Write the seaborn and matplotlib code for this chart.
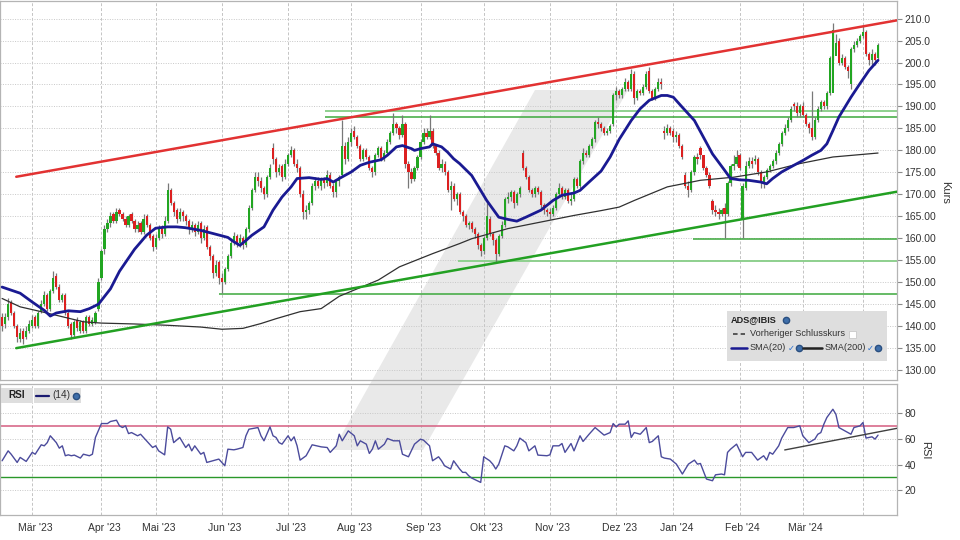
import pandas as pd
import matplotlib
matplotlib.use("Agg")
import matplotlib.pyplot as plt
from matplotlib.patches import Polygon, Rectangle
from matplotlib.lines import Line2D
from matplotlib.transforms import ScaledTranslation
from matplotlib import font_manager
import seaborn as sns

# ---- Tageskerzen ADS@IBIS, 15.02.2023 - 09.04.2024 ----
opens = [
    142, 140.5, 142, 145.5, 143, 140, 137, 139, 137.5, 139,
    140, 142, 140, 143.5, 145, 147, 144, 148, 151.5, 149, 146, 147, 143, 140.5, 138, 141.5, 139, 141, 139, 142, 140.5, 141, 144,
    151, 157.5, 162, 163.5, 165.5, 164, 166.5, 165.5, 164.5, 163, 165.5, 164, 162, 163.5, 161.5, 165, 163, 160.5,
    158, 160, 162.5, 161, 164, 171, 168, 166.5, 164.5, 166, 165, 164, 162, 163, 161.5, 163.5, 160, 162.5, 158, 156, 152, 154.5,
    151, 150, 153, 156, 159, 160.5, 159, 160, 158.5, 162, 167, 171, 174, 173, 171.5, 170, 174, 180.5, 178, 175, 176.5, 174,
    177, 179, 180, 177, 176, 170, 166, 166.5, 168, 172, 173, 172, 173.5, 172.5, 174.5, 172, 170.5, 173, 174.5, 181, 178,
    182, 184.5, 183, 181, 178, 180, 178.5, 176, 175, 179, 180.5, 178, 179.5, 182, 184, 186, 185, 183.5, 186, 177, 175, 173.5, 176,
    178.5, 182, 184, 183, 184.5, 181, 179.5, 176, 177, 175, 171, 172, 169, 170, 166, 165, 163, 163.5, 162, 161, 158.5,
    157, 160, 164.5, 161, 159.5, 156.5, 160.5, 163, 169, 169.5, 170.5, 168, 170, 179.5, 176, 174, 171, 170, 171.5, 170.5, 167.5, 166.5,
    166, 165.5, 167, 170, 171.5, 169.5, 171, 168.5, 169, 173.5, 172, 177.5, 179.5, 179, 181, 182.5, 186.5, 186, 185, 184, 184.5, 186,
    192.5, 193.5, 192.5, 194, 195.5, 194, 197.5, 192, 193.5, 193, 194.5, 198, 193.5, 192, 194, 195.5, 184.5, 184, 185,
    184.5, 183, 183.5, 181, 174.5, 172, 171, 175, 178.5, 180.5, 179, 176, 174.5, 168.5, 166.5, 166, 165.5, 167, 165.5, 172.5, 176.5, 177,
    179, 164.5, 171.5, 176.5, 177.5, 177.5, 178, 175, 172.5, 174, 175.5, 176.5, 177.5, 179.5, 181.5, 184, 185, 187, 190.5, 190, 188.5,
    190, 188, 186, 185, 183, 187, 189.5, 191, 190, 193, 193, 201.5, 205, 200, 201, 199, 195, 203, 204, 205,
    206, 207, 202, 200.5, 202, 201,
]
highs = [
    143, 143, 146.5, 146, 143.5, 140.5, 139.5, 139.5, 140, 141.5,
    142.5, 142.5, 143.5, 146, 148, 147.5, 148.5, 152.5, 152, 149.5, 147.5, 147.5, 143.5, 141, 141.5, 142, 141.5, 141.5, 142.5, 142.5, 142, 143.5, 151,
    157.5, 163, 164.5, 166, 166, 167, 167, 166, 165, 165.5, 166, 164.5, 164, 164, 165.5, 165.5, 163.5, 161,
    161, 163, 163, 165, 172.5, 171.5, 168.5, 167, 167, 166.5, 165.5, 164.5, 164, 163.5, 164, 164, 163, 163, 158.5, 156.5, 155, 155,
    152, 153.5, 156.5, 159.5, 161.5, 161, 161, 160.5, 162.5, 167.5, 171.5, 175, 175, 174, 172, 174.5, 177, 181.6, 178.5, 177, 177, 178,
    179.5, 181, 180.5, 178, 176.5, 171, 167.5, 168.5, 172.5, 174, 174, 174, 174, 175.5, 175, 172.5, 173.5, 174.5, 187, 182, 183,
    185, 185.5, 183.5, 181.5, 180.5, 180.5, 179, 176.5, 179.5, 181, 181, 180, 182.5, 184.5, 188.4, 186.5, 185.5, 188, 186.5, 177.5, 176, 176.5, 179,
    182.5, 185, 185, 188, 185, 181.5, 180, 178, 177.5, 175.5, 173, 172.5, 170.5, 170.5, 166.5, 165.5, 164, 164, 162.5, 161.5, 159,
    160.5, 168, 165, 161.5, 160, 161, 164, 169.5, 170.5, 171, 171, 170.5, 172, 180, 176.5, 174.5, 171.5, 172, 172, 171, 168, 167,
    167, 167.5, 170.5, 172.5, 172, 171.5, 171.5, 170, 174, 174, 178, 180.5, 180, 181.5, 183, 187, 187.5, 186.5, 185.5, 185, 186, 193,
    194.5, 194, 194.5, 196.5, 196, 198.5, 198, 194, 194, 195, 198, 199, 194, 194.5, 196.5, 196.5, 185.5, 186, 185.5,
    185, 184.5, 184, 181.5, 175, 173, 175.5, 179, 179.5, 181, 179, 176.5, 175, 169, 167.5, 167, 167, 168, 173, 177, 179, 180,
    179.5, 172.5, 177.5, 178.5, 178.5, 179, 178.5, 175.5, 174.5, 176, 177, 178, 180, 182, 184.5, 186, 187.5, 190, 191, 191, 190.5,
    191, 188.5, 186.5, 193.6, 187.5, 190, 191.5, 191.5, 193.5, 201.5, 209, 206.5, 205.5, 202, 201.5, 199.5, 203.5, 205, 205.5, 206.5,
    208.5, 207.5, 202.5, 203, 202.5, 204.5,
]
lows = [
    139, 139.5, 141.5, 142.5, 139.5, 136.5, 136.5, 136, 137, 138.5,
    139.5, 139.5, 139.5, 143, 144.5, 143.5, 143.5, 147.5, 148.5, 145.5, 145.5, 142.5, 139.5, 137, 137.5, 139, 138.5, 138.5, 138.5, 140, 140, 140.5, 143.5,
    150.5, 156.5, 161.5, 162.5, 163.5, 163.5, 165, 164, 162.5, 162.5, 163.5, 161.5, 161.5, 161, 161, 162.5, 159.5, 157,
    157.5, 159.5, 160, 160.5, 163.5, 167.5, 165, 163.5, 164, 164, 163, 161, 161.5, 160.5, 161, 159, 159.5, 157.5, 155, 151, 151.5, 149.5,
    147.5, 149.5, 152.5, 155.5, 158.5, 158, 158, 157.5, 158, 161.5, 166.5, 170.5, 172, 170.5, 169, 169.5, 173.5, 177, 174, 174.5, 173, 173.5,
    176.5, 178.5, 176.5, 175, 169.5, 164.5, 164.5, 165.5, 167.5, 171, 171.5, 171, 171.5, 172, 171.5, 169.5, 169.5, 172, 174, 177, 177.5,
    181, 182.5, 180.5, 177.5, 177.5, 178, 175.5, 174, 174.5, 178.5, 177.5, 177.5, 179, 181.5, 183.5, 184, 182.5, 183, 176, 171.5, 172.5, 173, 175.5,
    178, 181.5, 182.5, 182.5, 180.5, 179, 175.5, 175, 174.5, 170.5, 166.4, 168.5, 167.5, 165.5, 164, 162.5, 162, 161.5, 160, 157.5, 156,
    156.5, 159.5, 160.5, 158.5, 154.5, 156, 160, 162.5, 168, 168.5, 167, 167.5, 169.5, 175.5, 173.5, 170.5, 169.5, 169.5, 170, 167, 165.5, 165,
    164.5, 165, 166.5, 169.5, 169, 169, 168, 167.5, 168.5, 171.5, 171.5, 177, 178.5, 178.5, 180.5, 182, 185, 184.5, 183.5, 183.5, 184, 185.5,
    191.5, 192, 192, 193.5, 193.5, 193.5, 190.5, 191.5, 192.5, 192.5, 194, 193, 191.5, 191.5, 193.5, 194, 182.5, 183.5, 183.5,
    182, 182, 180.5, 178, 171.5, 169.5, 170.5, 174.5, 177, 178, 175.5, 174, 171.5, 165.5, 165, 164.5, 165, 160, 165, 172, 175.5, 176.5,
    175.5, 160, 171, 176, 176, 177, 174.5, 171.5, 171.5, 173.5, 175, 176, 177, 179, 181, 183.5, 184.5, 186.5, 189, 187.5, 187.5,
    187.5, 185.5, 184, 182.3, 182.5, 186.5, 189, 189.5, 189.5, 192.5, 200.5, 204, 199.5, 199.5, 198.5, 196.5, 194, 202.5, 203.5, 204.5,
    205.5, 201.5, 199.5, 199.5, 199.5, 200.5,
]
closes = [
    140, 142, 145, 143, 140, 137.5, 138.5, 137, 139, 140.5,
    141.5, 140, 143, 145, 147, 144, 148, 151, 149, 146, 147, 143, 140, 138, 141, 139.5, 141, 139, 142, 140.5, 141.5, 143, 150,
    157, 162, 163.5, 165, 164, 166, 165.5, 164.5, 163, 165, 164, 162, 163, 161.5, 164.5, 163, 160, 158,
    160, 162, 161, 164, 171, 168, 166, 164.5, 166, 165, 164, 162, 163, 161.5, 163, 160, 162, 158, 156, 152, 154, 151,
    150, 153, 156, 159, 160.5, 159, 160, 158.5, 162, 167, 171, 174, 173, 171.5, 170, 174, 176, 178, 175, 176, 174, 177,
    179, 180, 177, 176, 170, 166, 166.5, 168, 172, 173, 172, 173.5, 172.5, 174.5, 172, 170.5, 173, 174, 181, 178, 182,
    184, 183, 181, 178, 180, 178.5, 176, 175, 179, 180.5, 178, 179.5, 182, 184, 186, 185, 183.5, 186, 177, 175, 173.5, 176, 178.5,
    182, 184, 183, 184.5, 181, 179.5, 176, 177, 175, 171, 172, 169, 170, 166, 165, 163, 163.5, 162, 161, 158.5, 157,
    160, 165, 161, 159.5, 156.5, 160.5, 163, 169, 169.5, 170.5, 168, 170, 171.5, 176, 174, 171, 170, 171.5, 170.5, 167.5, 166.5, 166,
    165.5, 167, 170, 171.5, 169.5, 171, 168.5, 169, 173.5, 172, 177.5, 179.5, 179, 181, 182.5, 186.5, 186, 185, 184, 184.5, 185.5, 192.5,
    193.5, 192.5, 194, 195.5, 194, 197.5, 192, 193.5, 193, 194.5, 197.5, 193.5, 192, 194, 195.5, 195, 184, 185, 184,
    183, 183.5, 181, 178.5, 172, 171, 175, 178.5, 178, 179, 176, 174.5, 172, 166.5, 166, 165.5, 166.5, 165.5, 172.5, 176.5, 177, 178.5,
    176, 172, 176.5, 177.5, 177, 178, 175, 172.5, 174, 175.5, 176.5, 177.5, 179.5, 181.5, 184, 185, 187, 189.5, 190, 188.5, 190,
    188, 186, 185, 183, 187, 189.5, 191, 190, 193, 201, 207.5, 204.5, 200, 201, 199, 198, 203, 204, 205, 206,
    207, 202, 200.5, 202, 200.5, 204,
]

# Handelstag-Nummer -> Indikatorwerte
sma20_day = [0, 3, 6, 10, 14, 16, 18, 22, 26, 29, 32, 36, 39, 44, 48, 51, 55, 58, 61, 66, 70, 75, 77, 79, 81, 83, 87, 90,
             93, 96, 98, 102, 106, 108, 110, 112, 116, 119, 122, 126, 128, 131, 133, 136, 137, 139, 142, 143, 146, 148,
             150, 152, 156, 161, 165, 168, 171, 174, 179, 183, 186, 190, 192, 195, 199, 202, 205, 209, 212, 215, 219,
             221, 223, 226, 230, 233, 236, 240, 242, 245, 248, 252, 254, 256, 259, 263, 266, 269, 272, 274, 276, 278,
             282, 285, 288, 291]
sma20_val = [148.9, 148.2, 147.5, 145.5, 143.6, 142.3, 143.0, 143.5, 143.3, 144.0, 145.0, 148.5, 152.5, 157.5, 160.7,
             162.3, 162.6, 162.6, 162.4, 161.8, 161.1, 160.2, 159.2, 158.4, 159.5, 160.7, 162.6, 166.4, 169.4, 171.7,
             173.6, 173.8, 173.4, 173.6, 172.8, 173.6, 175.1, 176.6, 177.3, 177.9, 178.9, 180.8, 181.1, 180.4, 180.0,
             180.4, 180.8, 181.5, 180.8, 179.6, 178.1, 177.0, 174.3, 168.6, 164.8, 164.3, 163.9, 164.8, 166.4, 168.6,
             169.8, 170.3, 170.9, 172.8, 175.3, 178.5, 182.5, 186.8, 189.5, 191.4, 192.5, 192.5, 192.1, 189.8, 186.8,
             183.0, 179.2, 175.5, 173.6, 173.3, 173.2, 172.8, 172.4, 173.6, 175.1, 176.6, 177.7, 178.9, 180.0, 181.5,
             184.5, 187.6, 192.1, 195.2, 198.2, 200.5]
sma200_day = [0, 6, 13, 27, 33, 44, 55, 66, 73, 80, 86, 91, 99, 106, 112, 125, 132, 143, 152, 156, 168, 179, 190, 199,
              205, 210, 221, 232, 243, 254, 265, 276, 291]
sma200_val = [146.3, 144.4, 143.3, 141.0, 140.7, 140.5, 140.2, 139.8, 139.3, 139.5, 140.6, 141.7, 143.3, 144.0, 146.8,
              150.5, 153.5, 156.5, 158.8, 159.9, 162.2, 163.7, 165.2, 166.3, 167.1, 168.6, 171.7, 173.2, 173.9, 175.1,
              177.0, 178.5, 179.4]
rsi_day = [0, 2, 3, 5, 6, 8, 10, 11, 13, 14, 15, 16, 18, 19, 20, 21, 22, 23, 24, 26, 27, 29, 30, 31, 33, 35, 36, 38, 39,
           40, 41, 42, 43, 45, 46, 48, 50, 51, 52, 54, 55, 56, 57, 59, 61, 62, 63, 64, 66, 67, 68, 70, 72, 74, 75, 77,
           78, 80, 81, 82, 85, 86, 87, 89, 90, 91, 92, 93, 95, 96, 97, 98, 99, 101, 103, 106, 108, 109, 111, 112, 113,
           115, 117, 118, 119, 121, 122, 123, 124, 125, 127, 128, 130, 132, 133, 135, 137, 139, 140, 142, 143, 145, 146,
           147, 149, 150, 152, 153, 154, 155, 156, 159, 160, 162, 163, 164, 165, 167, 168, 170, 171, 172, 174, 175, 177,
           178, 181, 182, 183, 185, 186, 187, 189, 190, 192, 193, 195, 197, 200, 202, 203, 204, 205, 207, 208, 209, 210,
           212, 214, 215, 216, 218, 219, 220, 222, 224, 226, 228, 230, 231, 232, 234, 236, 237, 239, 240, 241, 242, 244,
           246, 247, 249, 251, 253, 254, 255, 256, 258, 259, 261, 263, 265, 266, 268, 270, 271, 272, 273, 274, 276, 277,
           278, 280, 282, 283, 285, 286, 287, 288, 289, 290, 291]
rsi_val = [42.9, 50.6, 48.0, 41.6, 45.5, 42.4, 49.4, 48.0, 55.3, 54.5, 57.0, 62.3, 57.0, 52.7, 54.5, 46.8, 47.5, 46.8,
           47.3, 45.0, 48.0, 46.8, 48.0, 61.0, 71.8, 71.8, 73.4, 74.4, 70.0, 68.7, 70.0, 64.0, 64.8, 62.3, 63.5, 58.4,
           53.2, 54.5, 50.6, 47.5, 69.2, 67.4, 57.0, 61.0, 53.2, 55.8, 50.6, 54.5, 48.0, 49.4, 41.6, 42.9, 44.2, 39.0,
           51.9, 51.4, 51.9, 53.2, 62.3, 67.4, 68.7, 62.3, 58.4, 69.2, 62.3, 61.0, 57.0, 55.8, 62.3, 58.4, 61.5, 54.5,
           43.4, 46.8, 55.3, 53.7, 53.2, 49.4, 54.5, 63.5, 58.4, 66.1, 62.3, 54.5, 58.4, 55.8, 48.6, 51.9, 58.4, 51.9,
           55.8, 60.2, 58.4, 58.4, 48.0, 46.0, 55.8, 59.7, 58.9, 54.5, 42.9, 46.0, 42.9, 39.0, 36.5, 42.9, 36.5, 33.9,
           33.9, 31.3, 29.5, 26.1, 46.0, 42.9, 40.3, 36.5, 40.3, 54.5, 53.7, 50.6, 54.5, 60.5, 57.0, 50.6, 54.5, 47.3,
           46.8, 47.5, 54.5, 54.5, 56.3, 49.4, 56.3, 50.6, 62.3, 57.9, 63.5, 68.7, 62.8, 64.8, 71.8, 69.2, 71.3, 71.3,
           73.9, 61.0, 64.8, 63.5, 68.7, 57.0, 57.9, 62.3, 46.0, 45.0, 44.2, 40.3, 32.6, 40.3, 43.4, 40.3, 40.8, 28.7,
           27.4, 32.0, 32.6, 32.0, 49.4, 51.9, 55.8, 46.0, 49.4, 49.4, 43.4, 46.8, 43.4, 49.4, 48.0, 54.5, 60.5, 68.7,
           68.7, 70.0, 62.3, 57.0, 59.7, 63.5, 64.8, 71.3, 76.5, 82.9, 79.0, 68.7, 66.1, 63.5, 68.7, 70.0, 72.6, 60.5,
           61.0, 61.5, 59.7, 62.8]

# Trendlinien und Unterstuetzungen (Tag, Kurs)
red_trend_day, red_trend_val = [4.7, 297.3], [174.0, 209.6]
green_trend_day, green_trend_val = [4.7, 297.3], [135.0, 170.6]
support_level = [147.3, 154.8, 159.8, 187.6, 188.9]
support_start = [72, 151.5, 229.6, 107.3, 107.3]
rsi_trend_day, rsi_trend_val = [260, 297.3], [51.3, 68.1]

holidays = ["2023-04-07", "2023-04-10", "2023-05-01", "2023-12-25", "2023-12-26",
            "2024-01-01", "2024-03-29", "2024-04-01"]
monate = ["Jan", "Feb", "Mär", "Apr", "Mai", "Jun", "Jul", "Aug", "Sep", "Okt", "Nov", "Dez"]

dates = pd.bdate_range("2023-02-15", "2024-04-09")
dates = dates[~dates.isin(pd.to_datetime(holidays))]
df = pd.DataFrame({"open": opens, "high": highs, "low": lows, "close": closes}, index=dates)
df["day"] = range(len(df))

month_pos, month_lab = [], []
for i in range(1, len(dates)):
    if dates[i].month != dates[i - 1].month:
        month_pos.append(i)
        month_lab.append(f"{monate[dates[i].month - 1]} '{dates[i].strftime('%y')}")
month_lab[-1] = ""  # Apr '24 ohne Beschriftung

sns.set_theme(style="white")
names = {f.name for f in font_manager.fontManager.ttflist}
narrow = "Liberation Sans Narrow" if "Liberation Sans Narrow" in names else "Liberation Sans"
plt.rcParams["font.family"] = ["Liberation Sans", "DejaVu Sans"]

W, H = 960, 540
fig = plt.figure(figsize=(W / 100, H / 100), dpi=100)
fig.patch.set_facecolor("white")
fx = lambda x: x / W
fy = lambda y: 1 - y / H

XMAX = 297.3
ax1 = fig.add_axes([0, fy(380), fx(897), 379 / H])
ax2 = fig.add_axes([0, fy(515), fx(897), 131 / H])

# Wasserzeichen
wm = Polygon([(fx(333), fy(450)), (fx(423), fy(450)), (fx(628), fy(90)), (fx(535), fy(90))],
             closed=True, transform=fig.transFigure, facecolor="#e9e9e9", edgecolor="none", zorder=-1)
fig.add_artist(wm)

for ax in (ax1, ax2):
    ax.set_facecolor("none")
    for s in ax.spines.values():
        s.set_color("#b4b4b4")
        s.set_linewidth(0.9)
    ax.set_xlim(-0.7, XMAX)
    ax.set_xticks(month_pos)
    for p in month_pos:
        ax.axvline(p, color="#c4c4c4", lw=0.7, ls=(0, (3, 2)), zorder=0)
    ax.yaxis.tick_right()
    ax.tick_params(axis="y", which="both", right=True, left=False, length=3.5, width=0.8,
                   color="#8a8a8a", labelsize=7.5, labelcolor="#333333", pad=2)
    ax.tick_params(axis="x", length=0)

# --- Kurs-Panel ---
ax1.set_ylim(127.75, 214.0)
yt = list(range(130, 211, 5))
ax1.set_yticks(yt)
ax1.set_yticklabels([f"{v:.1f}" if v >= 200 else f"{v:.2f}" for v in yt])
for v in yt:
    ax1.axhline(v, color="#c8c8c8", lw=0.7, ls=(0, (1, 1.5)), zorder=0)
ax1.set_xticklabels([])

up = df[df["close"] >= df["open"]]
dn = df[df["close"] < df["open"]]
ax1.vlines(df["day"], df["low"], df["high"], color="#787878", lw=0.9, zorder=3)
ax1.bar(up["day"], (up["close"] - up["open"]).clip(lower=0.25), bottom=up["open"], width=0.72,
        color="#22a622", edgecolor="none", zorder=4)
ax1.bar(dn["day"], (dn["open"] - dn["close"]).clip(lower=0.25), bottom=dn["close"], width=0.72,
        color="#dc2020", edgecolor="none", zorder=4)

sns.lineplot(x=sma200_day, y=sma200_val, ax=ax1, color="#303030", lw=0.9, estimator=None, sort=False, zorder=5)
sns.lineplot(x=sma20_day, y=sma20_val, ax=ax1, color="#1a1a92", lw=2.0, estimator=None, sort=False, zorder=6)

ax1.plot(red_trend_day, red_trend_val, color="#e23232", lw=1.8, zorder=7)
ax1.plot(green_trend_day, green_trend_val, color="#22a022", lw=1.8, zorder=7)
for lvl, start in zip(support_level, support_start):
    light = lvl in (154.8, 188.9)
    ax1.hlines(lvl, start, XMAX, color="#8ed08e" if light else "#3ca83c", lw=1.4 if light else 1.1, zorder=2)
ax1.set_xlabel("")
ax1.set_ylabel("")

# --- RSI-Panel ---
ax2.set_ylim(0.8, 102.5)
ax2.set_yticks([20, 40, 60, 80])
ax2.set_yticklabels(["20", "40", "60", "80"])
for v in [20, 40, 60, 80]:
    ax2.axhline(v, color="#c8c8c8", lw=0.7, ls=(0, (1, 1.5)), zorder=0)
ax2.axhline(70, color="#d86a8a", lw=1.2, zorder=2)
ax2.axhline(30, color="#2a982a", lw=1.0, zorder=2)
sns.lineplot(x=rsi_day, y=rsi_val, ax=ax2, color="#4b4b9c", lw=1.0, estimator=None, sort=False, zorder=4)
ax2.plot(rsi_trend_day, rsi_trend_val, color="#404040", lw=1.0, zorder=5)
ax2.set_xticklabels(month_lab, fontsize=7.5, color="#333333", family=narrow)
ax2.tick_params(axis="x", pad=6)
shift = ScaledTranslation(3 / 100, 0, fig.dpi_scale_trans)
for lbl in ax2.get_xticklabels():
    lbl.set_transform(lbl.get_transform() + shift)
ax2.set_xlabel("")
ax2.set_ylabel("")

fig.text(fx(945), fy(192), "Kurs", rotation=270, ha="center", va="center", fontsize=8, color="#333333")
fig.text(fx(925), fy(450), "RSI", rotation=270, ha="center", va="center", fontsize=8, color="#333333")

# --- Legende ---
LF = 6.6


def globe(x, y):
    fig.add_artist(Line2D([fx(x)], [fy(y)], marker="o", ms=4.5, color="#3f6faa",
                          markeredgecolor="#2a4f80", transform=fig.transFigure, zorder=11))


fig.add_artist(Rectangle((fx(727), fy(361)), fx(160), 50 / H, transform=fig.transFigure,
                         facecolor="#dedede", edgecolor="none", zorder=10))
fig.text(fx(731), fy(320), "ADS@IBIS", fontsize=LF, fontweight="bold", va="center", color="#222222", zorder=11)
globe(786, 320)
fig.add_artist(Line2D([fx(733), fx(745)], [fy(334), fy(334)], color="#333333", lw=1.1, ls=(0, (3, 2)),
                      transform=fig.transFigure, zorder=11))
fig.text(fx(750), fy(334), "Vorheriger Schlusskurs", fontsize=LF, va="center", color="#333333", zorder=11)
fig.add_artist(Rectangle((fx(849), fy(338)), fx(7), 7 / H, transform=fig.transFigure,
                         facecolor="white", edgecolor="#c8c8c8", lw=0.6, zorder=11))
fig.add_artist(Line2D([fx(731), fx(747)], [fy(348), fy(348)], color="#1a1a92", lw=1.8,
                      transform=fig.transFigure, zorder=11))
fig.text(fx(750), fy(348), "SMA(20)", fontsize=LF, va="center", color="#333333", zorder=11)
fig.text(fx(788), fy(348), "\u2713", fontsize=6, va="center", color="#2a70d0", zorder=11,
         family=["DejaVu Sans"], fontweight="bold")
globe(799, 348)
fig.add_artist(Line2D([fx(803), fx(822)], [fy(348), fy(348)], color="#222222", lw=1.8,
                      transform=fig.transFigure, zorder=11))
fig.text(fx(825), fy(348), "SMA(200)", fontsize=LF, va="center", color="#333333", zorder=11)
fig.text(fx(867), fy(348), "\u2713", fontsize=6, va="center", color="#2a70d0", zorder=11,
         family=["DejaVu Sans"], fontweight="bold")
globe(878, 348)

# --- RSI-Kopf ---
fig.add_artist(Rectangle((fx(1), fy(403)), fx(32), 15 / H, transform=fig.transFigure,
                         facecolor="#dedede", edgecolor="none", zorder=10))
fig.add_artist(Rectangle((fx(34), fy(403)), fx(47), 15 / H, transform=fig.transFigure,
                         facecolor="#dedede", edgecolor="none", zorder=10))
fig.text(fx(8), fy(395.5), "RSI", fontsize=7.2, fontweight="bold", va="center", color="#222222", zorder=11)
fig.add_artist(Line2D([fx(36), fx(49)], [fy(395.5), fy(395.5)], color="#1a1a70", lw=1.6,
                      transform=fig.transFigure, zorder=11))
fig.text(fx(52), fy(395.5), "(14)", fontsize=7.2, va="center", color="#333333", zorder=11)
globe(76, 395.5)

fig.savefig("out.png", dpi=100)
